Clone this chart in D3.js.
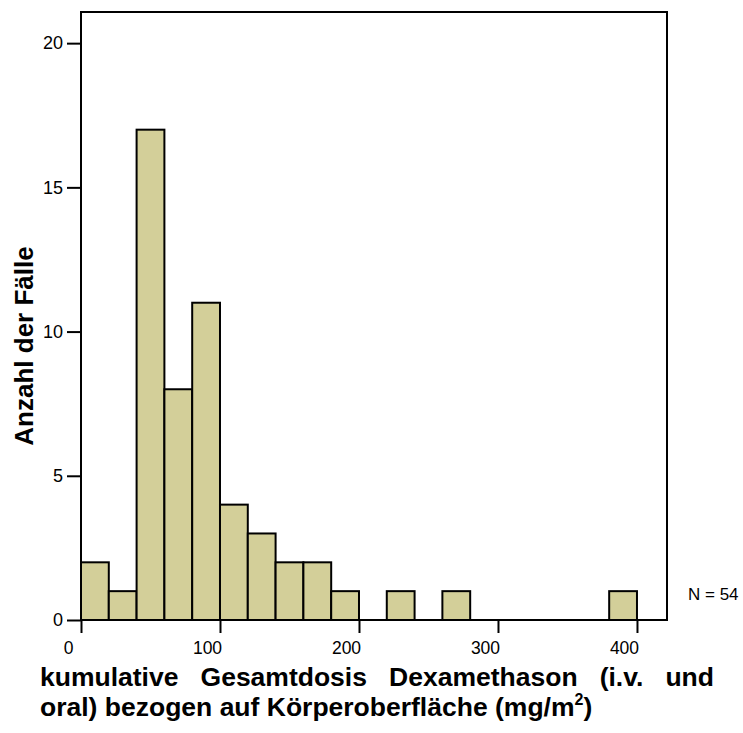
<!DOCTYPE html>
<html>
<head>
<meta charset="utf-8">
<script src="https://cdn.jsdelivr.net/npm/d3@7"></script>
<style>
  html, body { margin: 0; padding: 0; background: #fff; }
  svg { display: block; }
  text { font-family: "Liberation Sans", Arial, Helvetica, sans-serif; fill: #000; }
</style>
</head>
<body>
<svg id="chart" width="743" height="733"></svg>
<script>
// Histogram bins (lower edge) and counts
const binStarts = [0, 20, 40, 60, 80, 100, 120, 140, 160, 180, 200, 220, 240, 260, 280, 300, 320, 340, 360, 380];
const binWidth = 20;
const counts    = [2, 1, 17, 8, 11, 4, 3, 2, 2, 1, 0, 1, 0, 1, 0, 0, 0, 0, 0, 1];
const xTicks = [0, 100, 200, 300, 400];
const yTicks = [0, 5, 10, 15, 20];
const yTitle = "Anzahl der Fälle";
const xTitleLine1 = ["kumulative", "Gesamtdosis", "Dexamethason", "(i.v.", "und"];
const xTitleLine2 = "oral) bezogen auf Körperoberfläche (mg/m";
const nLabel = "N = 54";

const svg = d3.select("#chart");
const pLeft = 81, pRight = 667, pTop = 12, pBottom = 620;

const x = d3.scaleLinear().domain([0, 421.6]).range([pLeft, pRight]);
const y = d3.scaleLinear().domain([0, 21.08]).range([pBottom, pTop]);

// bars
svg.append("g").selectAll("rect")
  .data(binStarts.map((s, i) => ({ s, c: counts[i] })).filter(d => d.c > 0))
  .join("rect")
  .attr("x", d => x(d.s))
  .attr("y", d => y(d.c))
  .attr("width", d => x(d.s + binWidth) - x(d.s))
  .attr("height", d => y(0) - y(d.c))
  .attr("fill", "#d3cf99")
  .attr("stroke", "#000")
  .attr("stroke-width", 2);

// frame
svg.append("rect")
  .attr("x", pLeft).attr("y", pTop)
  .attr("width", pRight - pLeft).attr("height", pBottom - pTop)
  .attr("fill", "none").attr("stroke", "#000").attr("stroke-width", 2);

// y axis
const yAxis = d3.axisLeft(y).tickValues(yTicks).tickSize(14).tickPadding(4).tickFormat(d3.format("d"));
const gy = svg.append("g").attr("transform", `translate(${pLeft},0)`).call(yAxis);
gy.select(".domain").remove();
gy.selectAll(".tick line").attr("stroke", "#000").attr("stroke-width", 2);
gy.selectAll(".tick text").attr("font-size", 18).attr("font-family", "Liberation Sans, Arial, sans-serif").attr("fill", "#000");

// x axis
const xAxis = d3.axisBottom(x).tickValues(xTicks).tickSize(13).tickPadding(9).tickFormat(d3.format("d"));
const gx = svg.append("g").attr("transform", `translate(0,${pBottom})`).call(xAxis);
gx.select(".domain").remove();
gx.selectAll(".tick line").attr("stroke", "#000").attr("stroke-width", 2);
gx.selectAll(".tick text").attr("font-size", 17.5).attr("font-family", "Liberation Sans, Arial, sans-serif")
  .attr("fill", "#000").attr("dx", -13).attr("dy", "0.68em");

// y title
svg.append("text")
  .attr("transform", "translate(33,346) rotate(-90)")
  .attr("text-anchor", "middle")
  .attr("font-size", 26).attr("font-weight", "bold")
  .text(yTitle);

// x title, line 1 justified
const tx0 = 40, tx1 = 714;
const t1 = svg.append("text")
  .attr("x", tx0).attr("y", 686)
  .attr("font-size", 26.5).attr("font-weight", "bold")
  .text(xTitleLine1.join(" "));
const natural = t1.node().getComputedTextLength();
const ws = ((tx1 - tx0) - natural) / (xTitleLine1.length - 1);
t1.attr("word-spacing", ws);

const t2 = svg.append("text")
  .attr("x", tx0).attr("y", 716)
  .attr("font-size", 26.5).attr("font-weight", "bold");
t2.append("tspan").text(xTitleLine2);
t2.append("tspan").attr("font-size", 16).attr("dy", -11).text("2");
t2.append("tspan").attr("dy", 11).text(")");

// N label
svg.append("text")
  .attr("x", 688).attr("y", 600)
  .attr("font-size", 17)
  .text(nLabel);
</script>
</body>
</html>
